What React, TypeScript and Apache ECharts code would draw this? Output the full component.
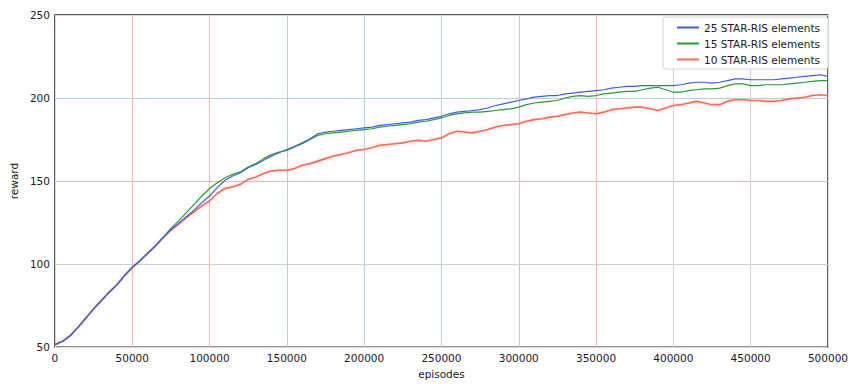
import React, { useEffect, useRef } from "react";
import * as echarts from "echarts";

const episodes: number[] = [];
for (let i = 0; i <= 100; i++) episodes.push(i * 5000);

const xTicks = [0, 50000, 100000, 150000, 200000, 250000, 300000, 350000, 400000, 450000, 500000];
const yTicks = [50, 100, 150, 200, 250];

const early = [51.5, 53.5, 57, 62, 67.5, 73, 78, 83, 87.5, 93, 98, 102, 106.5, 111, 116];

const reward25 = [
  ...early,
  120.5, 124.5, 128.5, 132.5, 137, 141, 146, 150.5, 153, 155,
  158, 160, 162.5, 165, 167, 169, 171, 173, 175.5, 178.5,
  179.5, 180, 180.5, 181, 181.5, 182, 182.5, 183.5, 184, 184.5,
  185, 185.5, 186.5, 187, 188, 189, 190.5, 191.5, 192, 192.5,
  193, 194, 195.5, 196.5, 197.5, 198.5, 199.5, 200.5, 201, 201.5,
  201.5, 202.5, 203, 203.5, 204, 204.5, 205, 206, 206.5, 207,
  207, 207.5, 207.5, 207.5, 207.5, 207.5, 208, 209, 209.5, 209.5,
  209, 209.5, 210.5, 211.5, 211.5, 211, 211, 211, 211, 211.5,
  212, 212.5, 213, 213.5, 214, 213,
];

const reward15 = [
  ...early,
  121.5, 126, 131, 136, 141, 145.5, 149, 152, 154, 155.5,
  158.5, 160.5, 163.5, 166, 167.5, 168.5, 170.5, 172.5, 175, 177.5,
  178.5, 179, 179.5, 180, 180.5, 181, 181.5, 182.5, 183, 183.5,
  184, 184.5, 185.5, 186, 187, 188, 189.5, 190.5, 191, 191.5,
  191.5, 192, 192.5, 193, 193.5, 194.5, 196, 197, 197.5, 198,
  198.5, 200, 201, 201.5, 201, 201.5, 202.5, 203, 203.5, 204,
  204, 205, 206, 206.5, 205, 203.5, 203.5, 204.5, 205, 205.5,
  205.5, 206, 207.5, 208.5, 208.5, 207.5, 207.5, 208, 208, 208,
  208.5, 209, 209.5, 210, 210.5, 210.5,
];

const reward10 = [
  ...early,
  120.5, 124, 128, 131.5, 135, 138, 142.5, 145.5, 146.5, 148,
  151, 152.5, 154.5, 156, 156.5, 156.5, 157.5, 159.5, 160.5, 162,
  163.5, 165, 166, 167, 168.5, 169, 170, 171.5, 172, 172.5,
  173, 174, 174.5, 174, 175, 176, 178.5, 180, 179.5, 179,
  180, 181, 182.5, 183.5, 184, 184.5, 186, 187, 187.5, 188.5,
  189, 190, 191, 191.5, 191, 190.5, 191.5, 193, 193.5, 194,
  194.5, 194.5, 193.5, 192.5, 194, 195.5, 196, 197, 198, 197,
  196, 196, 198, 199, 199, 198.5, 198.5, 198, 198, 198.5,
  199.5, 200, 200.5, 201.5, 202, 201.5,
];

const seriesNames = ["25 STAR-RIS elements", "15 STAR-RIS elements", "10 STAR-RIS elements"];
const seriesValues = [reward25, reward15, reward10];
const seriesColors = ["#3f5fd8", "#2a983a", "#ec6f62"];

const xGridColors = [
  "#d9d9d9", "#f2b8ad", "#f2b8ad", "#b9ccd8", "#b5d0e0", "#b5d0e0",
  "#f2b8ad", "#f2b8ad", "#cfd3d8", "#cfd3d8", "#d9d9d9",
];
const yGridColors = ["#d9d9d9", "#c9d0d8", "#f2b8ad", "#bcd0de", "#d9d9d9"];

export default function App() {
  const ref = useRef<HTMLDivElement>(null);
  useEffect(() => {
    if (!ref.current) return;
    const chart = echarts.init(ref.current, null, { renderer: "svg" });
    const font = "DejaVu Sans";
    chart.setOption({
      animation: false,
      backgroundColor: "#ffffff",
      grid: {
        left: 54,
        right: 20,
        top: 15,
        bottom: 32,
        show: true,
        borderColor: "#1f1f1f",
        borderWidth: 1.3,
        backgroundColor: "transparent",
      },
      legend: {
        data: seriesNames,
        orient: "vertical",
        right: 23,
        top: 17,
        itemWidth: 22,
        itemHeight: 2,
        itemGap: 5,
        padding: [5, 8, 4, 14],
        backgroundColor: "#ffffff",
        borderColor: "#d4d4d4",
        borderWidth: 1,
        borderRadius: 3,
        icon: "rect",
        textStyle: { fontFamily: font, fontSize: 10.5, color: "#1a1a1a" },
      },
      xAxis: {
        type: "value",
        min: 0,
        max: 500000,
        interval: 50000,
        name: "episodes",
        nameLocation: "middle",
        nameGap: 19,
        nameTextStyle: { fontFamily: font, fontSize: 10.5, color: "#1a1a1a" },
        axisLine: { show: false },
        axisTick: { show: false },
        axisLabel: {
          fontFamily: font,
          fontSize: 10.5,
          color: "#1a1a1a",
          margin: 5,
          formatter: (v: number) => String(v),
        },
        splitLine: { show: true, lineStyle: { color: xGridColors, width: 1 } },
      },
      yAxis: {
        type: "value",
        min: 50,
        max: 250,
        interval: 50,
        name: "reward",
        nameLocation: "middle",
        nameGap: 32,
        nameRotate: 90,
        nameTextStyle: { fontFamily: font, fontSize: 10.5, color: "#1a1a1a" },
        axisLine: { show: false },
        axisTick: { show: false },
        axisLabel: { fontFamily: font, fontSize: 10.5, color: "#1a1a1a", margin: 5 },
        splitLine: { show: true, lineStyle: { color: yGridColors, width: 1 } },
      },
      series: seriesNames.map((name, k) => ({
        name,
        type: "line",
        showSymbol: false,
        symbol: "none",
        data: episodes.map((e, i) => [e, seriesValues[k][i]]),
        color: seriesColors[k],
        z: 3 - k,
        lineStyle: {
          width: k === 2 ? 1.6 : 1.2,
          color: seriesColors[k],
          shadowColor: k === 2 ? "rgba(240,120,110,0.45)" : "rgba(0,0,0,0)",
          shadowBlur: k === 2 ? 4 : 0,
        },
      })),
    });
    return () => chart.dispose();
  }, []);
  return <div ref={ref} style={{ width: 851, height: 384, position: "absolute", left: 0, top: 0 }} />;
}
